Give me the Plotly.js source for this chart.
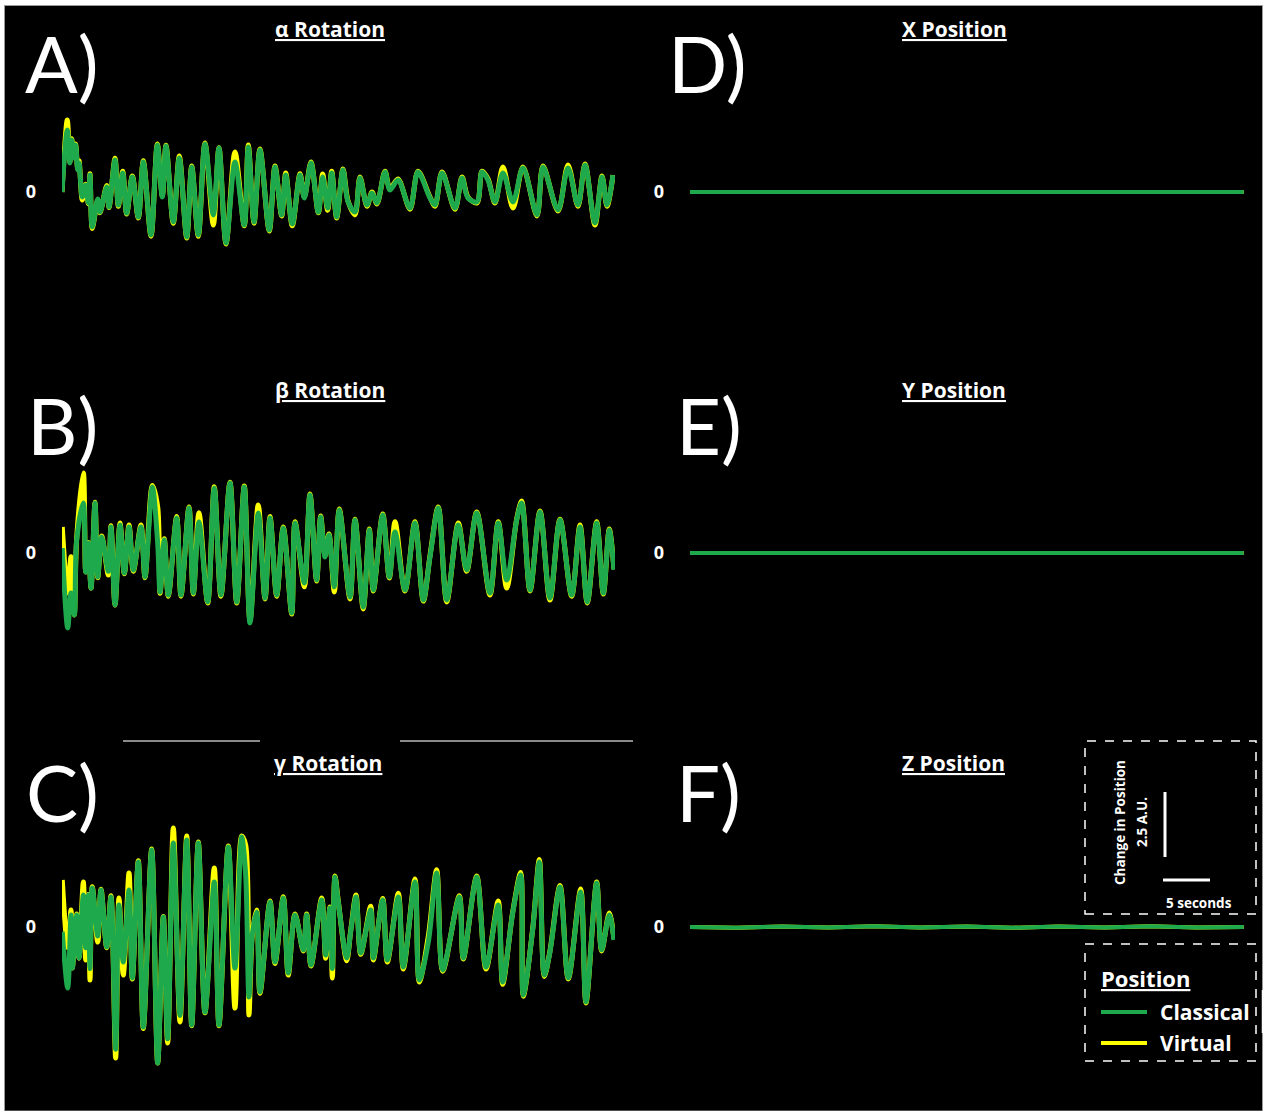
<!DOCTYPE html>
<html><head><meta charset="utf-8">
<script src="https://cdn.plot.ly/plotly-3.0.1.min.js"></script>
<style>html,body{margin:0;padding:0;background:#fff;overflow:hidden}#chart{width:1267px;height:1111px}</style>
</head><body><div id="chart"></div>
<script>
// ---------- DATA (seconds, A.U.) ----------
const panelTitles = ['α Rotation','β Rotation','γ Rotation','X Position','Y Position','Z Position'];
const panelLetters = ['A)','B)','C)','D)','E)','F)'];
const seriesNames = ['Classical','Virtual'];
const legendTitle = 'Position';
const scaleAU = 2.5;       // vertical scale bar, A.U.
const scaleSeconds = 5;    // horizontal scale bar, s
const scaleLabelAU = ['Change in Position','2.5 A.U.'];
const scaleLabelTime = '5 seconds';
const zeroTick = ['0'];

const tA = [0.0,0.56,0.85,1.03,1.31,1.46,1.67,1.81,2.16,2.52,
  2.8,2.98,3.22,3.8,4.04,4.76,5.0,5.64,5.99,6.46,
  6.88,7.48,8.12,8.65,9.47,10.14,10.67,11.06,11.84,12.48,
  13.27,13.8,14.5,15.21,16.1,16.7,17.45,18.4,19.39,19.82,
  20.43,21.06,22.05,22.66,23.37,23.8,24.5,25.32,25.78,26.49,
  27.27,27.73,28.26,28.69,29.22,29.89,30.43,31.17,31.7,32.45,
  32.98,33.51,34.36,34.89,35.74,37.02,37.87,39.15,39.68,40.43,
  41.81,42.55,43.19,44.15,44.68,45.32,46.06,46.91,47.98,49.04,
  50.53,51.17,52.77,53.83,54.89,55.64,56.7,57.45,57.98,58.62];
const alphaClassical = [0,2.38,1.12,2.0,1.31,1.81,0.85,1.12,-0.19,0.27,
  -0.42,0.65,-1.35,-0.27,-0.77,0.19,-0.58,1.23,-0.5,0.73,
  -0.81,0.58,-0.96,1.15,-1.65,1.81,-0.19,1.77,-1.15,1.31,
  -1.73,0.96,-1.65,1.85,-0.88,1.69,-1.96,1.15,-1.27,1.73,
  -1.15,1.62,-1.46,0.96,-0.88,0.65,-1.23,0.65,-0.23,1.12,
  -0.77,0.58,-0.62,0.73,-0.96,0.85,-0.38,-0.77,0.54,-0.5,
  -0.04,-0.42,0.77,0.08,0.46,-0.62,0.77,-0.23,-0.5,0.73,
  -0.62,0.54,-0.23,-0.38,0.77,0.46,-0.38,0.73,-0.38,0.92,
  -0.88,0.96,-0.69,0.92,-0.5,1.04,-1.19,0.58,-0.5,0.65];
const alphaVirtual = [0,2.77,1.15,2.05,1.35,1.85,0.9,1.2,-0.31,0.3,
  -0.45,0.7,-1.4,-0.3,-0.8,0.25,-0.6,1.3,-0.55,0.8,
  -0.85,0.62,-1.0,1.2,-1.7,1.85,-0.15,1.8,-1.2,1.38,
  -1.77,1.0,-1.7,1.88,-1.27,1.7,-2.0,1.54,-1.3,1.81,
  -1.2,1.65,-1.5,1.0,-0.92,0.73,-1.3,0.7,-0.2,1.15,
  -0.8,0.69,-0.7,0.8,-1.0,0.88,-0.35,-0.88,0.58,-0.55,
  0.0,-0.46,0.8,0.12,0.5,-0.66,0.8,-0.2,-0.55,0.77,
  -0.66,0.58,-0.2,-0.42,0.8,0.5,-0.42,0.96,-0.62,0.96,
  -0.92,1.0,-0.73,1.04,-0.55,1.08,-1.27,0.62,-0.55,0.65];

const tB = [0.03,0.61,0.96,1.31,1.56,2.27,2.52,2.8,3.09,3.51,
  3.8,4.22,4.93,5.21,5.64,6.17,6.63,7.13,7.59,8.4,
  8.83,9.61,10.18,10.43,10.88,11.31,12.2,12.66,13.51,13.97,
  14.57,15.5,16.2,16.91,17.87,18.59,19.39,20.0,20.88,21.6,
  22.13,22.84,23.54,24.44,24.79,25.78,26.38,27.09,27.52,27.98,
  28.4,28.97,29.5,30.64,31.17,32.05,32.69,33.12,34.12,34.82,
  35.43,36.49,37.55,38.44,39.15,40.03,40.93,42.16,43.05,44.12,
  45.53,46.41,47.31,48.37,48.9,49.79,50.85,51.91,52.98,54.22,
  55.11,55.88,56.88,57.59,58.22,58.72];
const betaClassical = [0.19,-2.88,-1.54,-2.38,0.5,1.92,-0.73,0.38,-1.35,1.92,
  -0.92,0.62,-0.7,1.0,-2.0,1.08,-0.77,1.0,-0.65,1.0,
  -0.92,2.54,0.38,-1.5,0.5,-1.62,1.35,-1.62,1.73,-1.54,
  1.19,-1.88,2.5,-1.62,2.69,-1.88,2.54,-2.69,1.54,-1.73,
  1.35,-1.62,0.96,-2.31,1.15,-1.15,2.23,-1.04,1.38,-0.15,
  0.69,-1.3,1.65,-1.69,1.27,-2.08,0.88,-1.42,1.46,-0.92,
  0.81,-1.42,1.15,-1.81,-0.15,1.73,-1.81,1.08,-0.65,1.54,
  -1.54,1.15,-1.04,1.27,1.92,-1.42,1.58,-1.73,1.27,-1.62,
  1.0,-1.88,1.15,-1.54,0.88,-0.65];
const betaVirtual = [1.0,-1.54,-0.14,-2.38,0.55,3.08,-0.73,0.4,-1.35,1.95,
  -0.95,0.65,-0.85,1.05,-2.0,1.15,-0.8,1.08,-0.7,1.08,
  -0.95,2.6,1.77,-1.55,0.55,-1.66,1.4,-1.66,1.77,-1.58,
  1.55,-1.92,2.55,-1.66,2.72,-1.92,2.58,-2.6,1.85,-1.77,
  1.4,-1.66,1.0,-2.35,1.2,-1.3,2.27,-1.08,1.42,-0.1,
  0.73,-1.5,1.69,-1.77,1.3,-2.15,0.92,-1.46,1.5,-0.96,
  1.2,-1.46,1.2,-1.85,-0.1,1.77,-1.88,1.15,-0.7,1.58,
  -1.62,1.2,-1.35,1.3,2.0,-1.46,1.62,-1.81,1.3,-1.66,
  1.08,-1.92,1.2,-1.58,0.92,-0.62];

const tC = [0.03,0.61,0.96,1.1,1.56,1.81,2.27,2.52,2.8,2.98,
  3.22,3.8,4.15,4.76,5.21,5.71,6.06,6.52,7.13,7.48,
  8.12,8.65,9.54,10.18,10.78,11.24,11.84,12.55,13.27,13.8,
  14.5,15.21,16.2,16.7,17.69,18.4,19.12,19.54,19.89,20.24,
  20.71,21.06,22.13,22.66,23.54,24.07,24.79,25.67,26.03,26.49,
  27.63,28.05,28.51,28.76,29.04,29.39,30.29,30.71,31.28,31.78,
  32.84,33.12,34.12,34.61,35.78,36.31,37.55,38.01,38.97,39.86,
  40.5,42.27,42.69,44.12,45.11,46.41,46.88,47.95,48.8,49.07,
  50.07,50.78,51.31,51.91,52.98,53.86,55.18,55.74,56.88,57.41,
  58.22,58.72];
const gammaClassical = [-0.18,-2.35,0.46,-1.58,0.46,-1.19,1.23,-0.8,1.23,-1.6,
  1.5,-0.35,1.42,-0.77,1.15,-4.7,0.85,-1.35,1.42,-1.96,
  2.5,-3.85,2.96,-5.23,0.38,-4.3,3.23,-3.4,3.35,-3.77,
  3.23,-3.27,1.73,-3.77,3.08,-1.58,3.46,2.0,-2.69,-0.31,
  0.58,-2.5,0.96,-1.35,1.12,-1.77,0.46,-0.88,0.46,-1.46,
  1.04,-1.08,0.73,-1.6,1.92,0.96,-1.19,-0.19,1.15,-1.0,
  0.65,-1.19,1.04,-1.27,1.15,-1.54,1.73,-2.04,-0.58,2.08,
  -1.65,1.15,-1.19,1.92,-1.54,0.85,-2.12,0.54,2.0,-2.62,
  -0.12,2.5,-1.85,-0.96,1.54,-1.96,1.35,-2.88,1.69,-0.88,
  0.46,-0.5];
const gammaVirtual = [1.81,-0.8,0.65,-1.58,0.5,-1.2,1.73,-1.27,1.25,-2.04,
  1.55,-0.58,1.45,-0.8,1.2,-5.04,1.12,-1.85,2.08,-2.0,
  2.55,-3.9,3.0,-5.23,0.4,-4.46,3.81,-3.65,3.5,-3.8,
  3.27,-3.3,2.27,-3.8,3.12,-3.12,3.5,3.15,-3.38,-0.3,
  0.65,-2.55,1.0,-1.4,1.16,-1.85,0.5,-0.92,0.5,-1.5,
  1.12,-1.2,0.77,-1.96,1.96,1.0,-1.3,-0.15,1.23,-1.05,
  0.8,-1.27,1.1,-1.35,1.3,-1.62,1.85,-2.12,-0.35,2.2,
  -1.7,1.2,-1.23,1.96,-1.62,1.0,-2.2,0.58,2.1,-2.66,
  -0.08,2.6,-1.9,-0.92,1.6,-2.0,1.46,-2.92,1.73,-0.92,
  0.54,-0.46];

const tPos = [0,4.9,9.8,14.7,19.6,24.5,29.4,34.3,39.2,44.1,49.0,53.9,58.9];
const xClassical = [0,0,0,0,0,0,0,0,0,0,0,0,0];
const xVirtual   = [0,0,0,0,0,0,0,0,0,0,0,0,0];
const yClassical = [0,0,0.02,0,0,0.02,0,0,0.02,0,0,0.02,0];
const yVirtual   = [0,0,0.02,0,0,0.02,0,0,0.02,0,0,0.02,0];
const zClassical = [0,-0.03,0.02,-0.02,0.03,-0.02,0.02,-0.03,0.02,-0.02,0.03,-0.02,0];
const zVirtual   = [0,-0.03,0.02,-0.02,0.03,-0.02,0.02,-0.03,0.02,-0.02,0.03,-0.02,0];

// ---------- LAYOUT HELPERS ----------
const W = 1267, H = 1111;
const px = x => x / W;
const py = y => 1 - y / H;
const GREEN = '#1eaa4c', YELLOW = '#ffff00', WHITE = '#ffffff';
const FONT = '"Open Sans", Lato, sans-serif';
const LETTER_FONT = 'Lato, "Open Sans", sans-serif';
const PXPS = 9.4;   // pixels per second
const PXAU = 26;    // pixels per A.U.

const panels = [
  {t:tA, c:alphaClassical, v:alphaVirtual, shape:'spline'},
  {t:tB, c:betaClassical,  v:betaVirtual,  shape:'spline'},
  {t:tC, c:gammaClassical, v:gammaVirtual, shape:'spline'},
  {t:tPos, c:xClassical, v:xVirtual, shape:'linear'},
  {t:tPos, c:yClassical, v:yVirtual, shape:'linear'},
  {t:tPos, c:zClassical, v:zVirtual, shape:'linear'}
];
// pixel geometry for each panel: left, right, zero line, half-height
const geo = [
  {l:62, r:615, z:192, h:100}, {l:62, r:615, z:553, h:100}, {l:62, r:615, z:927, h:150},
  {l:690, r:1244, z:192, h:100}, {l:690, r:1244, z:553, h:100}, {l:690, r:1244, z:927, h:150}
];
const titlePos = [[330,29],[330,390],[328,763],[954,29],[954,390],[953,763]];
const letterPos = [[23,63],[25,425],[24,792],[666,63],[674,425],[674,792]];

const traces = [];
const layout = {
  width: W, height: H, margin: {l:0, r:0, t:0, b:0},
  paper_bgcolor: '#ffffff', plot_bgcolor: 'rgba(0,0,0,0)',
  showlegend: false, shapes: [], annotations: [],
  font: {family: FONT, color: WHITE}
};

panels.forEach((p, i) => {
  const n = i === 0 ? '' : String(i + 1);
  const g = geo[i];
  const lw = i < 3 ? 5 : 4;
  traces.push({x: p.t, y: p.v, name: seriesNames[1], type: 'scatter', mode: 'lines',
    xaxis: 'x' + n, yaxis: 'y' + n,
    line: {color: YELLOW, width: lw, shape: p.shape, smoothing: 0.9}, hoverinfo: 'skip'});
  traces.push({x: p.t, y: p.c, name: seriesNames[0], type: 'scatter', mode: 'lines',
    xaxis: 'x' + n, yaxis: 'y' + n,
    line: {color: GREEN, width: lw, shape: p.shape, smoothing: 0.9}, hoverinfo: 'skip'});
  layout['xaxis' + n] = {
    domain: [px(g.l), px(g.r)], range: [0, (g.r - g.l) / PXPS], anchor: 'y' + n,
    visible: false, fixedrange: true
  };
  layout['yaxis' + n] = {
    domain: [py(g.z + g.h), py(g.z - g.h)], range: [-g.h / PXAU, g.h / PXAU], anchor: 'x' + n,
    showgrid: false, zeroline: false, showline: false, ticks: '',
    tickvals: [0], ticktext: zeroTick, ticklabelstandoff: 25,
    tickfont: {family: FONT, size: 18, color: WHITE, weight: 'bold'}, fixedrange: true
  };
  layout.annotations.push({
    xref: 'paper', yref: 'paper', x: px(titlePos[i][0]), y: py(titlePos[i][1]),
    xanchor: 'center', yanchor: 'middle', showarrow: false,
    text: '<b><u>' + panelTitles[i] + '</u></b>',
    font: {family: FONT, size: 21, color: WHITE}
  });
  layout.annotations.push({
    xref: 'paper', yref: 'paper', x: px(letterPos[i][0]), y: py(letterPos[i][1]),
    xanchor: 'left', yanchor: 'middle', showarrow: false,
    text: panelLetters[i], font: {family: LETTER_FONT, size: 78, color: WHITE}
  });
});

// black background frame
layout.shapes.push({type:'rect', xref:'paper', yref:'paper', layer:'below',
  x0:px(4.5), x1:px(1262.5), y0:py(1111), y1:py(5.5),
  fillcolor:'#000000', line:{color:'#9a9a9a', width:1}});
// grey rules near panel C title
[[123,260],[400,633]].forEach(s => layout.shapes.push({type:'line', xref:'paper', yref:'paper',
  x0:px(s[0]), x1:px(s[1]), y0:py(741), y1:py(741), line:{color:'#8a8a8a', width:2}}));
// dashed boxes
[[741,914],[944,1061]].forEach(b => layout.shapes.push({type:'rect', xref:'paper', yref:'paper',
  x0:px(1085), x1:px(1256), y0:py(b[1]), y1:py(b[0]),
  line:{color:WHITE, width:1.5, dash:'dash'}}));
// small edge mark
layout.shapes.push({type:'line', xref:'paper', yref:'paper', x0:px(1262.5), x1:px(1262.5),
  y0:py(1033), y1:py(990), line:{color:WHITE, width:1.5}});
// scale bars drawn in panel F data units
const barX = (1165 - 690) / PXPS, barTop = (927 - 792) / PXAU;
const hBarX0 = (1163 - 690) / PXPS, hBarY = (927 - 880) / PXAU;
layout.shapes.push({type:'line', xref:'x6', yref:'y6', x0:barX, x1:barX,
  y0:barTop - scaleAU, y1:barTop, line:{color:WHITE, width:3}});
layout.shapes.push({type:'line', xref:'x6', yref:'y6', x0:hBarX0, x1:hBarX0 + scaleSeconds,
  y0:hBarY, y1:hBarY, line:{color:WHITE, width:3}});
// legend samples
[[GREEN,1012],[YELLOW,1043]].forEach(s => layout.shapes.push({type:'line', xref:'paper', yref:'paper',
  x0:px(1101), x1:px(1147), y0:py(s[1]), y1:py(s[1]), line:{color:s[0], width:4}}));

const ann = (x, y, text, size, opts) => Object.assign({xref:'paper', yref:'paper', x:px(x), y:py(y),
  xanchor:'center', yanchor:'middle', showarrow:false, text:text,
  font:{family:FONT, size:size, color:WHITE}}, opts || {});
layout.annotations.push(ann(1120, 823, '<b>' + scaleLabelAU[0] + '</b>', 13.5, {textangle:-90}));
layout.annotations.push(ann(1142, 822, '<b>' + scaleLabelAU[1] + '</b>', 13.5, {textangle:-90}));
layout.annotations.push(ann(1199, 903, '<b>' + scaleLabelTime + '</b>', 13.5));
layout.annotations.push(ann(1099, 978, '<b><u>' + legendTitle + '</u></b>', 22, {xanchor:'left'}));
layout.annotations.push(ann(1158, 1012, '<b>' + seriesNames[0] + '</b>', 21, {xanchor:'left'}));
layout.annotations.push(ann(1158, 1043, '<b>' + seriesNames[1] + '</b>', 21, {xanchor:'left'}));

Plotly.newPlot('chart', traces, layout, {staticPlot: true, displayModeBar: false});
</script></body></html>
